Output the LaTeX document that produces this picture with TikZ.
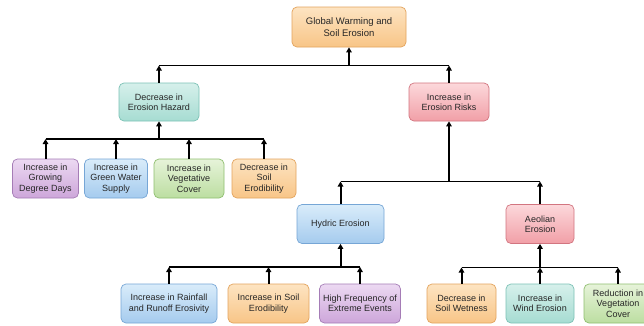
\documentclass[tikz,border=0pt]{standalone}
\usepackage{fontspec}
\setmainfont{Liberation Sans}
\usetikzlibrary{arrows.meta}

% box colour schemes: light top, deeper bottom, border
\definecolor{orT}{HTML}{FDE4C2}\definecolor{orB}{HTML}{F8C587}\definecolor{orD}{HTML}{E3A45E}
\definecolor{tlT}{HTML}{D6F0EB}\definecolor{tlB}{HTML}{A6DCD2}\definecolor{tlD}{HTML}{7CC2B6}
\definecolor{pkT}{HTML}{FCD8DB}\definecolor{pkB}{HTML}{F19FA7}\definecolor{pkD}{HTML}{D27580}
\definecolor{puT}{HTML}{ECD9F2}\definecolor{puB}{HTML}{CDA6DA}\definecolor{puD}{HTML}{A57CB6}
\definecolor{blT}{HTML}{D9ECFA}\definecolor{blB}{HTML}{A5CBEE}\definecolor{blD}{HTML}{76A6D6}
\definecolor{gnT}{HTML}{E6F3D9}\definecolor{gnB}{HTML}{BCDEA1}\definecolor{gnD}{HTML}{8FBF70}
\definecolor{txt}{HTML}{262626}

\tikzset{
  box/.style={rounded corners=5pt, line width=0.7pt, align=center, inner sep=0pt,
    minimum height=39pt, text=txt, font=\fontsize{9}{10.4}\selectfont},
  orbox/.style={box, draw=orD, top color=orT, bottom color=orB},
  tlbox/.style={box, draw=tlD, top color=tlT, bottom color=tlB},
  pkbox/.style={box, draw=pkD, top color=pkT, bottom color=pkB},
  pubox/.style={box, draw=puD, top color=puT, bottom color=puB},
  blbox/.style={box, draw=blD, top color=blT, bottom color=blB},
  gnbox/.style={box, draw=gnD, top color=gnT, bottom color=gnB},
  bus/.style={line width=1.3pt, black},
  up/.style={line width=2pt, black, -{Triangle[length=5pt,width=5.5pt]}},
}

\begin{document}
\begin{tikzpicture}[x=1pt,y=-1pt]
\useasboundingbox[fill=white] (0,0) rectangle (644,325);

% top level
\node[orbox, minimum width=114pt, minimum height=40pt,
      font=\fontsize{9.5}{11.6}\selectfont] (top) at (349,27) {Global Warming and\\Soil Erosion};

% second level
\node[tlbox, minimum width=80pt, minimum height=38pt] (haz) at (159,102) {Decrease in\\Erosion Hazard};
\node[pkbox, minimum width=80pt, minimum height=38pt] (risk) at (449,102) {Increase in\\Erosion Risks};

% drivers of a lower erosion hazard
\node[pubox, minimum width=66pt] (gdd)  at (45.5,178.5) {Increase in\\Growing\\Degree Days};
\node[blbox, minimum width=63pt] (gws)  at (116,178.5) {Increase in\\Green Water\\Supply};
\node[gnbox, minimum width=70pt] (veg)  at (189,178.5) {Increase in\\Vegetative\\Cover};
\node[orbox, minimum width=64pt] (erod) at (264,178.5) {Decrease in\\Soil\\Erodibility};

% erosion types
\node[blbox, minimum width=87pt] (hyd) at (340.5,224) {Hydric Erosion};
\node[pkbox, minimum width=68pt] (aeo) at (540,224) {Aeolian\\Erosion};

% hydric erosion drivers
\node[blbox, minimum width=96pt] (rain) at (169,303.5) {Increase in Rainfall\\and Runoff Erosivity};
\node[orbox, minimum width=81pt] (serod) at (268.5,303.5) {Increase in Soil\\Erodibility};
\node[pubox, minimum width=81pt] (ext) at (360,303.5) {High Frequency of\\Extreme Events};

% aeolian erosion drivers
\node[orbox, minimum width=69pt] (wet) at (461.5,303.5) {Decrease in\\Soil Wetness};
\node[tlbox, minimum width=68pt] (wind) at (540,303.5) {Increase in\\Wind Erosion};
\node[gnbox, minimum width=68pt] (vcov) at (618,303.5) {Reduction in\\Vegetation\\Cover};

% bus levels
\coordinate (b0) at (0,65.5);
\coordinate (b1) at (0,139);
\coordinate (b2) at (0,181.5);
\coordinate (b3) at (0,267);
\coordinate (b4) at (0,267.5);

% level 1
\draw[bus] (haz.north |- b0) -- (risk.north |- b0);
\draw[up] (top.south |- b0) -- (top.south);
\draw[up] (haz.north) -- (haz.north |- b0);
\draw[up] (risk.north) -- (risk.north |- b0);

% erosion hazard group
\draw[bus] (gdd.north |- b1) -- (erod.north |- b1);
\draw[up] (haz.south |- b1) -- (haz.south);
\foreach \n in {gdd,gws,veg,erod} \draw[up] (\n.north) -- (\n.north |- b1);

% erosion risk group
\draw[bus] (hyd.north |- b2) -- (aeo.north |- b2);
\draw[up] (risk.south |- b2) -- (risk.south);
\foreach \n in {hyd,aeo} \draw[up] (\n.north) -- (\n.north |- b2);

% hydric group
\draw[bus] (rain.north |- b3) -- (ext.north |- b3);
\draw[up] (hyd.south |- b3) -- (hyd.south);
\foreach \n in {rain,serod,ext} \draw[up] (\n.north) -- (\n.north |- b3);

% aeolian group
\draw[bus] (wet.north |- b4) -- (vcov.north |- b4);
\draw[up] (aeo.south |- b4) -- (aeo.south);
\foreach \n in {wet,wind,vcov} \draw[up] (\n.north) -- (\n.north |- b4);
\end{tikzpicture}
\end{document}
